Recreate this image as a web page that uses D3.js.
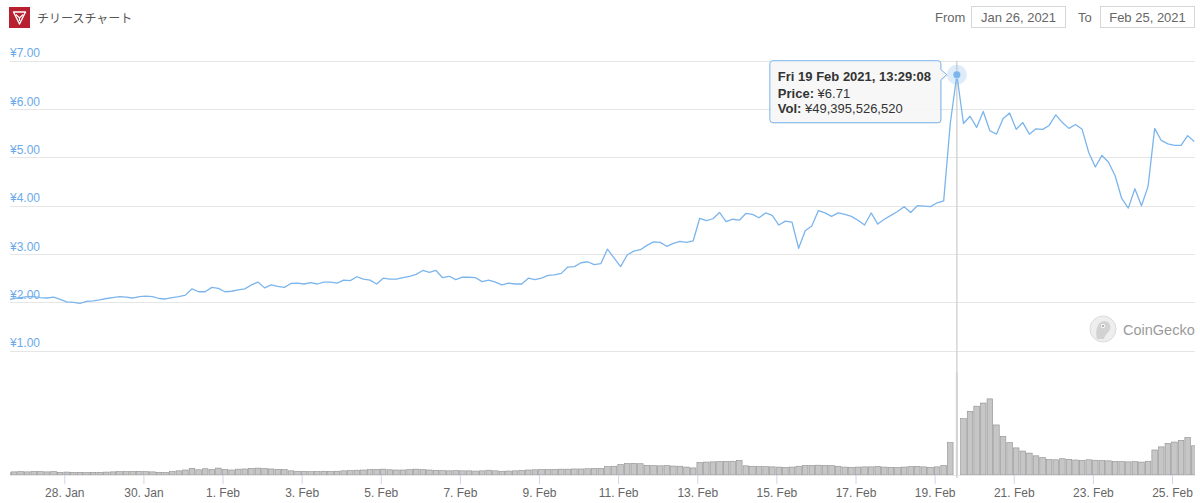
<!DOCTYPE html>
<html>
<head>
<meta charset="utf-8">
<script src="https://cdn.jsdelivr.net/npm/d3@7/dist/d3.min.js"></script>
<style>
  html, body { margin: 0; padding: 0; background: #fff; }
  svg { display: block; font-family: "Liberation Sans", Helvetica, Arial, sans-serif; }
</style>
</head>
<body>
<svg id="chart" width="1200" height="503"></svg>
<script>
// ---------------- DATA ----------------
const title = "チリースチャート";
const fromDate = "Jan 26, 2021";
const toDate = "Feb 25, 2021";
const seriesStart = "2021-01-26T13:29:08Z";   // first sample
const stepHours = 4;                            // sample spacing
const prices = [
 2.05,2.08,2.10,2.12,2.12,2.10,2.09,2.11,2.06,2.01,
 2.00,1.98,2.02,2.03,2.05,2.08,2.10,2.12,2.11,2.09,
 2.12,2.13,2.12,2.08,2.07,2.10,2.12,2.15,2.28,2.22,
 2.22,2.31,2.29,2.22,2.23,2.26,2.28,2.36,2.42,2.30,
 2.36,2.33,2.31,2.39,2.40,2.38,2.41,2.38,2.42,2.42,
 2.40,2.46,2.45,2.53,2.48,2.46,2.38,2.50,2.48,2.48,
 2.51,2.54,2.58,2.66,2.62,2.66,2.51,2.54,2.47,2.52,
 2.52,2.51,2.43,2.46,2.42,2.36,2.40,2.38,2.38,2.50,
 2.47,2.50,2.56,2.57,2.60,2.73,2.74,2.82,2.84,2.78,
 2.80,3.10,2.92,2.74,2.98,3.06,3.09,3.18,3.25,3.24,
 3.16,3.22,3.26,3.24,3.27,3.74,3.69,3.73,3.86,3.67,
 3.72,3.70,3.84,3.82,3.75,3.85,3.80,3.60,3.68,3.66,
 3.12,3.48,3.58,3.90,3.85,3.78,3.85,3.82,3.78,3.70,
 3.60,3.85,3.62,3.72,3.80,3.88,3.98,3.86,4.00,3.99,
 3.98,4.06,4.10,5.70,6.71,5.70,5.85,5.62,5.95,5.55,
 5.48,5.80,5.92,5.58,5.72,5.48,5.59,5.58,5.66,5.88,
 5.72,5.60,5.68,5.58,5.10,4.80,5.04,4.90,4.62,4.15,
 3.95,4.35,4.00,4.40,5.60,5.35,5.28,5.25,5.25,5.45,
 5.33
];
// volume in billions of yen
const volumes = [
 1.2,1.5,1.6,1.5,1.7,1.6,1.5,1.6,1.2,1.4,
 1.3,1.3,1.2,1.3,1.3,1.4,1.5,1.6,1.6,1.7,
 1.7,1.6,1.5,1.3,1.2,1.6,2.0,2.4,3.2,2.5,
 3.0,2.6,3.3,2.6,2.4,2.8,2.9,3.2,3.3,3.1,
 2.9,2.7,2.6,2.0,1.8,1.7,1.6,1.7,1.8,1.7,
 1.8,2.0,2.1,2.3,2.4,2.6,2.7,2.8,2.5,2.4,
 2.4,2.6,2.8,2.6,2.4,2.2,2.1,2.0,2.1,2.0,
 2.0,1.9,2.0,2.3,2.0,1.8,1.9,2.0,2.2,2.4,
 2.5,2.6,2.6,2.7,2.8,2.8,2.9,2.9,3.0,3.1,
 3.2,4.0,4.2,5.0,5.5,5.6,5.4,4.6,4.5,4.4,
 4.5,4.3,4.2,3.8,3.4,6.0,6.2,6.3,6.4,6.5,
 6.6,7.0,4.4,4.2,4.0,4.0,3.9,3.8,3.7,3.8,
 4.2,4.5,4.6,4.7,4.6,4.5,4.2,3.8,3.7,3.8,
 3.9,3.9,4.1,3.8,3.7,3.6,3.8,4.0,4.1,3.9,
 3.7,3.9,4.6,15.5,49.39552652,27.0,30.5,33.0,34.5,36.5,
 24.0,18.5,15.5,13.0,11.5,10.5,9.2,8.3,7.4,7.3,
 7.8,7.5,7.2,7.0,7.3,7.1,6.9,6.8,6.5,6.4,
 6.3,6.4,6.2,6.6,12.0,13.5,15.2,15.8,16.6,18.0,
 14.0
];
const priceTicks = [1, 2, 3, 4, 5, 6, 7];
const dateTicks = ["2021-01-28","2021-01-30","2021-02-01","2021-02-03","2021-02-05",
  "2021-02-07","2021-02-09","2021-02-11","2021-02-13","2021-02-15","2021-02-17",
  "2021-02-19","2021-02-21","2021-02-23","2021-02-25"];
const hoverIndex = 144;

// ---------------- BUILD ----------------
const t0 = new Date(seriesStart).getTime();
const data = prices.map((p, i) => ({
  date: new Date(t0 + i * stepHours * 3600 * 1000),
  price: p,
  vol: volumes[i]
}));

const svg = d3.select("#chart");
const plotLeft = 10, plotRight = 1195;

const x = d3.scaleUtc()
  .domain([new Date("2021-01-28T00:00:00Z"), new Date("2021-02-25T00:00:00Z")])
  .range([64.3, 1172]);
const y = d3.scaleLinear().domain([1, 7]).range([350.7, 60.7]);
const yVol = d3.scaleLinear().domain([0, 49.39552652]).range([475, 372]);

// ---- header ----
const logo = svg.append("g").attr("transform", "translate(9,7)");
logo.append("rect").attr("width", 21).attr("height", 21).attr("fill", "#b8202f");
logo.append("path").attr("d", "M4.5,5 L16.5,5 L10.5,17 Z")
  .attr("fill", "none").attr("stroke", "#fff").attr("stroke-width", 1.4).attr("stroke-linejoin", "round");
logo.append("path").attr("d", "M7,7.5 L10.5,11 L14,7.5 M10.5,11 L10.5,14")
  .attr("fill", "none").attr("stroke", "#fff").attr("stroke-width", 1.1);

svg.append("text").attr("x", 37).attr("y", 22.5)
  .attr("font-family", "'Noto Sans CJK JP', sans-serif")
  .attr("font-size", 12).attr("fill", "#555").text(title);

const hdr = svg.append("g").attr("font-size", 13).attr("fill", "#666");
hdr.append("text").attr("x", 935).attr("y", 22).text("From");
hdr.append("rect").attr("x", 971.5).attr("y", 6.5).attr("width", 94).attr("height", 21)
  .attr("fill", "#fff").attr("stroke", "#d6d6d6");
hdr.append("text").attr("x", 1018.5).attr("y", 22).attr("text-anchor", "middle").text(fromDate);
hdr.append("text").attr("x", 1078).attr("y", 22).text("To");
hdr.append("rect").attr("x", 1100.5).attr("y", 6.5).attr("width", 94).attr("height", 21)
  .attr("fill", "#fff").attr("stroke", "#d6d6d6");
hdr.append("text").attr("x", 1147.5).attr("y", 22).attr("text-anchor", "middle").text(toDate);

// ---- price gridlines & labels ----
const grid = svg.append("g");
grid.selectAll("line").data(priceTicks).join("line")
  .attr("x1", plotLeft).attr("x2", plotRight)
  .attr("y1", d => Math.round(y(d)) + 0.5).attr("y2", d => Math.round(y(d)) + 0.5)
  .attr("stroke", "#e6e6e6").attr("stroke-width", 1);
grid.selectAll("text").data(priceTicks).join("text")
  .attr("x", plotLeft).attr("y", d => y(d) - 3.5)
  .attr("font-size", 12).attr("fill", "#6aaaea")
  .text(d => "¥" + d.toFixed(2));

// ---- watermark ----
const wm = svg.append("g").attr("transform", "translate(1103,329)");
wm.append("circle").attr("r", 13).attr("fill", "#eeeeee").attr("stroke", "#dcdcdc");
wm.append("path").attr("d", "M-6,10 C-8,2 -6,-7 1,-8 C6,-8 8,-4 7,0 C6,4 2,5 1,10 Z").attr("fill", "#d2d2d2");
wm.append("circle").attr("cx", 0).attr("cy", -3).attr("r", 2).attr("fill", "#fff");
wm.append("circle").attr("cx", 0).attr("cy", -3).attr("r", 1).attr("fill", "#999");
svg.append("text").attr("x", 1123).attr("y", 334.5).attr("font-size", 14.5)
  .attr("fill", "#9a9a9a").text("CoinGecko");

// ---- clip ----
svg.append("defs").append("clipPath").attr("id", "plotClip")
  .append("rect").attr("x", plotLeft).attr("y", 40).attr("width", plotRight - plotLeft).attr("height", 450);

// ---- volume bars ----
const volG = svg.append("g").attr("clip-path", "url(#plotClip)");
volG.selectAll("rect").data(data.filter((d, i) => i !== hoverIndex)).join("rect")
  .attr("x", d => x(d.date) - 2.8)
  .attr("width", 5.6)
  .attr("y", d => yVol(d.vol))
  .attr("height", d => 475 - yVol(d.vol))
  .attr("fill", "#c6c6c6").attr("stroke", "#8e8e8e").attr("stroke-width", 0.6);

// baseline
svg.append("line").attr("x1", plotLeft).attr("x2", plotRight).attr("y1", 475.5).attr("y2", 475.5)
  .attr("stroke", "#e8e8e8");

// crosshair
const hp = data[hoverIndex];
const hx = x(hp.date);
svg.append("line").attr("x1", hx).attr("x2", hx).attr("y1", 60.7).attr("y2", 478)
  .attr("stroke", "#cccccc").attr("stroke-width", 1.2);

// hovered volume bar
svg.append("rect").attr("x", hx - 1).attr("width", 2)
  .attr("y", yVol(hp.vol)).attr("height", 475 - yVol(hp.vol)).attr("fill", "#d4d4d4");

// ---- x axis ----
const xAxis = d3.axisBottom(x)
  .tickValues(dateTicks.map(s => new Date(s + "T00:00:00Z")))
  .tickFormat(d3.utcFormat("%-d. %b"))
  .tickSize(9).tickPadding(4);
const xg = svg.append("g").attr("transform", "translate(0,475)").call(xAxis);
xg.select(".domain").remove();
xg.selectAll(".tick line").attr("stroke", "#ccd6eb");
xg.selectAll(".tick text").attr("fill", "#666").attr("font-size", 12)
  .attr("font-family", "'Liberation Sans', Helvetica, Arial, sans-serif");

// ---- price line ----
const line = d3.line().x(d => x(d.date)).y(d => y(d.price)).curve(d3.curveLinear);
svg.append("g").attr("clip-path", "url(#plotClip)")
  .append("path").datum(data).attr("d", line)
  .attr("fill", "none").attr("stroke", "#7cb5ec").attr("stroke-width", 1.3)
  .attr("stroke-linejoin", "round");

// ---- hover marker ----
const hy = y(hp.price);
svg.append("circle").attr("cx", hx).attr("cy", hy).attr("r", 10)
  .attr("fill", "#7cb5ec").attr("fill-opacity", 0.25);
svg.append("circle").attr("cx", hx).attr("cy", hy).attr("r", 4)
  .attr("fill", "#7cb5ec").attr("stroke", "#fff").attr("stroke-width", 0.5);

// ---- tooltip ----
const bx0 = hx - 187, bx1 = hx - 16, by0 = hy - 14, by1 = hy + 48, r = 3;
const ay = hy;
const tipPath = `M${bx0 + r},${by0} L${bx1 - r},${by0} Q${bx1},${by0} ${bx1},${by0 + r}
  L${bx1},${ay - 5} L${bx1 + 6},${ay} L${bx1},${ay + 5}
  L${bx1},${by1 - r} Q${bx1},${by1} ${bx1 - r},${by1} L${bx0 + r},${by1}
  Q${bx0},${by1} ${bx0},${by1 - r} L${bx0},${by0 + r} Q${bx0},${by0} ${bx0 + r},${by0} Z`;
svg.append("path").attr("d", tipPath)
  .attr("fill", "rgba(0,0,0,0.06)").attr("transform", "translate(1,1)");
svg.append("path").attr("d", tipPath)
  .attr("fill", "rgba(247,247,247,0.95)").attr("stroke", "#7cb5ec").attr("stroke-width", 1);

const tip = svg.append("text").attr("font-size", 13).attr("fill", "#333");
const tx = bx0 + 8;
tip.append("tspan").attr("x", tx).attr("y", hy + 6).attr("font-weight", "bold")
  .text(d3.utcFormat("%a %-d %b %Y, %H:%M:%S")(hp.date));
const l2 = tip.append("tspan").attr("x", tx).attr("y", hy + 23);
l2.append("tspan").attr("font-weight", "bold").text("Price: ");
l2.append("tspan").text("¥" + hp.price.toFixed(2));
const l3 = svg.append("text").attr("font-size", 13).attr("fill", "#333");
l3.append("tspan").attr("x", tx).attr("y", hy + 38).attr("font-weight", "bold").text("Vol: ");
l3.append("tspan").text("¥" + d3.format(",")(Math.round(hp.vol * 1e9)));
</script>
</body>
</html>
